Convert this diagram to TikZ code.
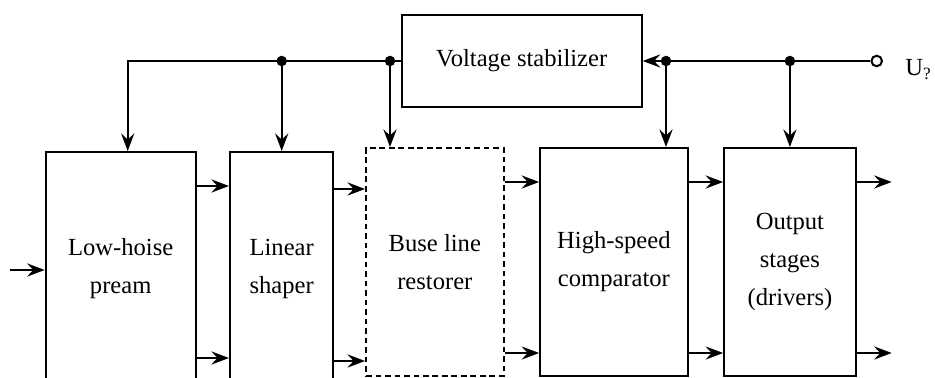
\documentclass[tikz,border=0pt]{standalone}
\usepackage{fontspec}
\setmainfont{Liberation Serif}
\usepackage{tikz}
\usetikzlibrary{arrows.meta, positioning, calc}

\begin{document}
\begin{tikzpicture}[x=0.02cm, y=-0.02cm,
    block/.style={draw, line width=1.15pt, align=center, inner sep=0pt, font=\fontsize{14}{21.6}\selectfont},
    sig/.style={line width=1.15pt, -{Stealth[length=10pt, width=7.5pt, inset=3.5pt]}},
    wire/.style={line width=1.15pt},
    dot/.style={circle, fill, inner sep=0pt, minimum size=6pt}]
    \clip (0,0) rectangle (935,378);

    % Stabilizzatore
    \node[block, minimum width=4.8cm, minimum height=1.84cm] (stab) at (521.7,61) {Voltage stabilizer};

    % Catena dei blocchi
    \node[block, minimum width=3cm, minimum height=4.68cm] (pre) at (120.7,269) {Low-hoise\\pream};
    \node[block, minimum width=2.07cm, minimum height=4.68cm] (shp) at (281.7,269) {Linear\\shaper};
    \node[block, dash pattern=on 3.2pt off 2.2pt, minimum width=2.75cm, minimum height=4.56cm] (blr) at (434.8,262) {Buse line\\restorer};
    \node[block, minimum width=2.95cm, minimum height=4.56cm] (cmp) at (613.9,262) {High-speed\\comparator};
    \node[block, minimum width=2.63cm, minimum height=4.56cm] (out) at (789.9,262) {Output\\stages\\(drivers)};

    % Alimentazione a sinistra
    \coordinate (jA) at (shp.north |- stab.west);
    \coordinate (jB) at (390,61);
    \draw[sig] (stab.west) -| ($(pre.north)+(7,0)$);
    \draw[sig] (jA) -- (shp.north);
    \draw[sig] (jB) -- (jB |- blr.north);
    \node[dot] at (jA) {};
    \node[dot] at (jB) {};

    % Ingresso U
    \node[draw, circle, line width=1.15pt, inner sep=0pt, minimum size=6pt, fill=white] (term) at (876.7,61) {};
    \node[anchor=base west, inner sep=0pt, font=\fontsize{14}{17}\selectfont] (ulab) at (905,76) {U\textsubscript{?}};
    \coordinate (jC) at (666,61);
    \coordinate (jD) at (out.north |- stab.east);
    \draw[wire] (term) -- (jC);
    \draw[sig] (jC) -- (stab.east);
    \draw[sig] (jC) -- (jC |- cmp.north);
    \draw[sig] (jD) -- (out.north);
    \node[dot] at (jC) {};
    \node[dot] at (jD) {};

    % Segnali
    \coordinate (in) at (10,270);
    \draw[sig] (in) -- (in -| pre.west);
    \foreach \y in {186,358} \draw[sig] (pre.east |- 0,\y) -- (shp.west |- 0,\y);
    \foreach \y in {189,361} \draw[sig] (shp.east |- 0,\y) -- (blr.west |- 0,\y);
    \foreach \y in {182,353} {
        \draw[sig] (blr.east |- 0,\y) -- (cmp.west |- 0,\y);
        \draw[sig] (cmp.east |- 0,\y) -- (out.west |- 0,\y);
        \draw[sig] (out.east |- 0,\y) -- ++(35,0);
    }
\end{tikzpicture}
\end{document}
